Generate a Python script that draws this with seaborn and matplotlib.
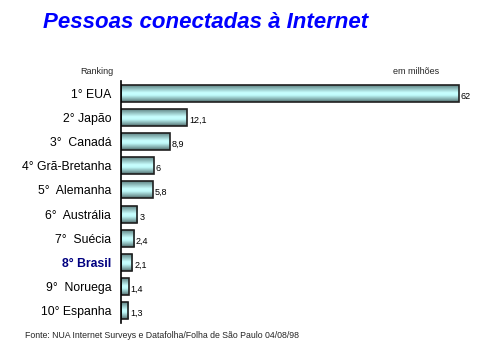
import numpy as np
import pandas as pd
import matplotlib
matplotlib.use("Agg")
import matplotlib.pyplot as plt
from matplotlib.colors import LinearSegmentedColormap
import seaborn as sns

categories = ["1° EUA", "2° Japão", "3°  Canadá", "4° Grã-Bretanha", "5°  Alemanha",
              "6°  Austrália", "7°  Suécia", "8° Brasil", "9°  Noruega", "10° Espanha"]
values = [62, 12.1, 8.9, 6, 5.8, 3, 2.4, 2.1, 1.4, 1.3]
value_labels = ["62", "12,1", "8,9", "6", "5,8", "3", "2,4", "2,1", "1,4", "1,3"]
highlight = "8° Brasil"

df = pd.DataFrame({"pais": categories, "valor": values})

sns.set_theme(style="white")
plt.rcParams["font.family"] = ["Liberation Sans", "DejaVu Sans"]

fig = plt.figure(figsize=(4.98, 3.5), dpi=100)
W, H = 498, 350
left_px, right_px = 121, 480
top_px, bot_px = 81, 323
ax = fig.add_axes([left_px / W, 1 - bot_px / H, (right_px - left_px) / W, (bot_px - top_px) / H])

sns.barplot(data=df, x="valor", y="pais", ax=ax, color="#bfffff", width=0.7,
            edgecolor="#202020", linewidth=1.2, orient="h")

xmax = (right_px - left_px) / 5.45
ax.set_xlim(0, xmax)
ax.set_ylim(len(categories) - 0.5, -0.5)

cmap = LinearSegmentedColormap.from_list(
    "cyl", [(0.0, "#5f8484"), (0.2, "#8fbcbc"), (0.45, "#c8ffff"), (0.6, "#c0fbfb"),
            (0.85, "#7fa8a8"), (1.0, "#4f6a6a")])
grad = np.linspace(0, 1, 64).reshape(-1, 1)
for p in ax.patches:
    x0, y0 = p.get_x(), p.get_y()
    w, h = p.get_width(), p.get_height()
    im = ax.imshow(grad, cmap=cmap, aspect="auto", extent=(x0, x0 + w, y0 + h, y0),
                   zorder=p.get_zorder() + 0.1, interpolation="bilinear")
    im.set_clip_path(p)
    p.set_facecolor("none")
    p.set_zorder(p.get_zorder() + 0.2)
ax.set_xlim(0, xmax)
ax.set_ylim(len(categories) - 0.5, -0.5)

for i, (v, lab) in enumerate(zip(values, value_labels)):
    ax.text(v + 0.35, i + 0.12, lab, fontsize=6.5, va="center", ha="left", color="black")

ax.set_xlabel("")
ax.set_ylabel("")
ax.set_xticks([])
ax.tick_params(axis="y", length=0, pad=7)
for s in ["top", "right", "bottom"]:
    ax.spines[s].set_visible(False)
ax.spines["left"].set_color("black")
ax.spines["left"].set_linewidth(1.2)

for t in ax.get_yticklabels():
    t.set_fontsize(8.8)
    t.set_color("black")
    if t.get_text() == highlight:
        t.set_fontweight("bold")
        t.set_color("#000080")

fig.text(43 / W, 1 - 22 / H, "Pessoas conectadas à Internet", fontsize=16, fontweight="heavy",
         fontstyle="italic", color="#0000ff", va="center", ha="left")
fig.text(113 / W, 1 - 72 / H, "Ranking", fontsize=6.5, ha="right", va="center")
fig.text(439 / W, 1 - 72 / H, "em milhões", fontsize=6.5, ha="right", va="center")
fig.text(25 / W, 1 - 336 / H, "Fonte: NUA Internet Surveys e Datafolha/Folha de São Paulo 04/08/98",
         fontsize=6.3, ha="left", va="center")

fig.savefig("out.png", dpi=100)
